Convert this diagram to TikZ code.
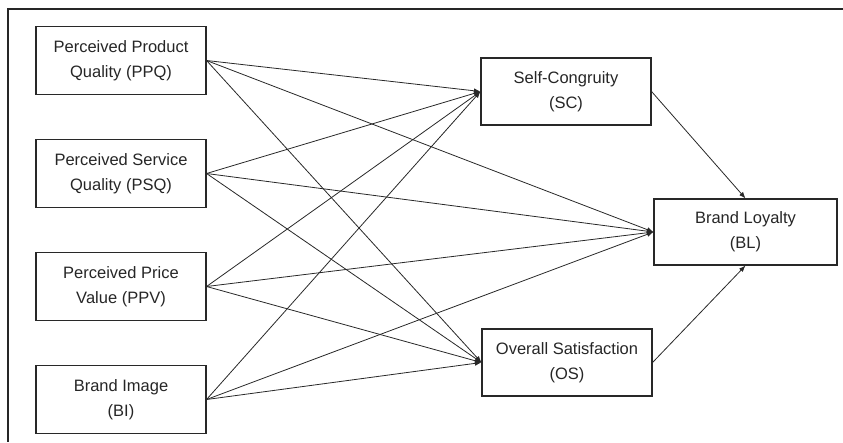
\documentclass[tikz,border=0pt]{standalone}
\usepackage{fontspec}
\setmainfont{Liberation Sans}
\usepackage{xcolor}
\usetikzlibrary{arrows.meta, positioning}
\definecolor{linegray}{RGB}{40, 40, 40}

\begin{document}
\begin{tikzpicture}[
        x=1pt, y=-1pt,
        block/.style={draw=linegray, line width=1.1pt, minimum width=170pt, minimum height=68pt, align=center, font=\fontsize{16.5}{25}\selectfont, text=black!85},
        arrow/.style={-{Latex[length=6.5pt, width=5pt]}, draw=linegray, line width=0.8pt}
    ]
        \useasboundingbox (0, 0) rectangle (843, 442);

        % Frame
        \draw[line width=2pt, black!85] (843, 9) -- (8, 9) -- (8, 442);

        % Antecedents
        \node[block] (ppq) at (121, 60.5) {Perceived Product\\Quality (PPQ)};
        \node[block] (psq) at (121, 173.5) {Perceived Service\\Quality (PSQ)};
        \node[block] (ppv) at (121, 286.5) {Perceived Price\\Value (PPV)};
        \node[block] (bi) at (121, 399.5) {Brand Image\\(BI)};

        % Mediators
        \node[block, minimum height=67pt] (sc) at (566, 91.5) {Self-Congruity\\(SC)};
        \node[block, minimum height=67pt] (os) at (567, 362.5) {Overall Satisfaction\\(OS)};

        % Outcome
        \node[block, minimum width=183pt, minimum height=66pt] (bl) at (745.5, 232) {Brand Loyalty\\(BL)};

        % Arrows to Self-Congruity
        \draw[arrow] (ppq.east) -- (sc.west);
        \draw[arrow] (psq.east) -- (sc.west);
        \draw[arrow] (ppv.east) -- (sc.west);
        \draw[arrow] (bi.east) -- (sc.west);

        % Arrows to Brand Loyalty
        \draw[arrow] (ppq.east) -- (bl.west);
        \draw[arrow] (psq.east) -- (bl.west);
        \draw[arrow] (ppv.east) -- (bl.west);
        \draw[arrow] (bi.east) -- (bl.west);

        % Arrows to Overall Satisfaction
        \draw[arrow] (ppq.east) -- (os.west);
        \draw[arrow] (psq.east) -- (os.west);
        \draw[arrow] (ppv.east) -- (os.west);
        \draw[arrow] (bi.east) -- (os.west);

        % Mediators to outcome
        \draw[arrow] (sc.east) -- (bl.north);
        \draw[arrow] (os.east) -- (bl.south);
    \end{tikzpicture}
\end{document}
